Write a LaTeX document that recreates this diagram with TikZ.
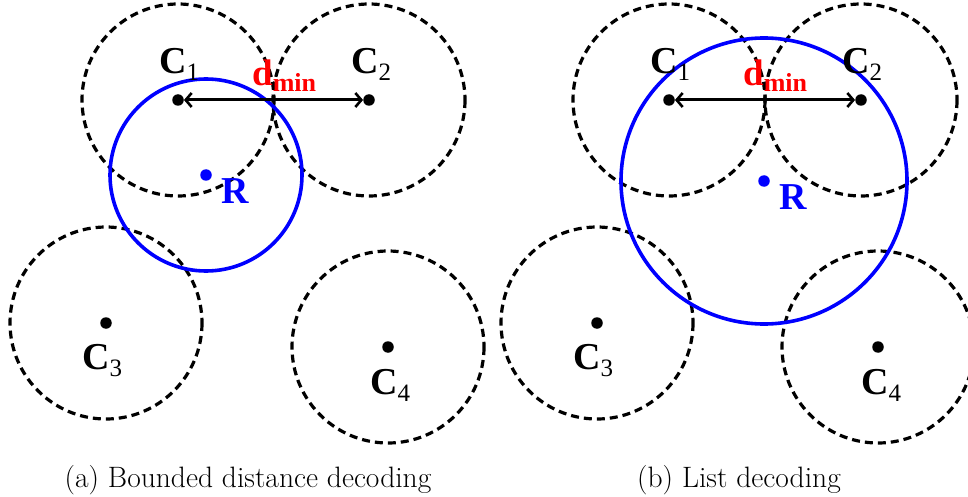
\documentclass[tikz,border=0pt]{standalone}
\usepackage{fontspec}
\newfontfamily\tnr{Liberation Serif}
\usetikzlibrary{arrows.meta}
\newcommand\clab[2]{{\tnr\fontsize{38}{38}\selectfont\bfseries #1\raisebox{-7pt}{\fontsize{25}{25}\selectfont\mdseries #2}}}
\newcommand\dminlab{{\tnr\bfseries\fontsize{37}{37}\selectfont d\raisebox{-6pt}{\fontsize{26}{26}\selectfont min}}}
\tikzset{
  dot/.style={circle,fill=black,inner sep=0pt,minimum size=11.5pt},
  bdot/.style={circle,fill=blue,inner sep=0pt,minimum size=11.5pt},
  dcirc/.style={draw=black,line width=3.2pt,dash pattern=on 8pt off 5pt},
  bcirc/.style={draw=blue,line width=3.6pt},
  darrow/.style={line width=3pt,{Straight Barb[length=6pt,width=14pt,line width=2.6pt]}-{Straight Barb[length=6pt,width=14pt,line width=2.6pt]}},
  lab/.style={anchor=base west,inner sep=0pt,text=black},
  captext/.style={anchor=base,inner sep=0pt,font=\fontsize{29.5}{34}\selectfont}
}
\begin{document}
\begin{tikzpicture}[x=1pt,y=-1pt]
\useasboundingbox (0,0) rectangle (968,497);
% ---------- panel (a)
\node[dot] (a1) at (178,100) {};
\node[dot] (a2) at (369,100) {};
\node[dot] (a3) at (106,323) {};
\node[dot] (a4) at (388,347) {};
\node[bdot] (ar) at (206,175) {};
\draw[dcirc] (a1.center) circle[radius=96];
\draw[dcirc] (a2.center) circle[radius=96];
\draw[dcirc] (a3.center) circle[radius=96];
\draw[dcirc] (a4.center) circle[radius=96];
\draw[bcirc] (ar.center) circle[radius=96];
\draw[darrow] (a1) -- (a2);
\node[lab] (a1l) at (159,74) {\clab{C}{1}};
\node[lab] (a2l) at (351,74) {\clab{C}{2}};
\node[lab] (a3l) at (82,369) {\clab{C}{3}};
\node[lab] (a4l) at (370,394) {\clab{C}{4}};
\node[lab,text=red] (adl) at (252,86) {\dminlab};
\node[lab,text=blue] (arl) at (221,203) {{\tnr\bfseries\fontsize{38}{38}\selectfont R}};
\node[captext] (acap) at (248,487) {(a) Bounded distance decoding};
% ---------- panel (b)
\begin{scope}[xshift=491pt]
\node[dot] (b1) at (178,100) {};
\node[dot] (b2) at (370,100) {};
\node[dot] (b3) at (106,323) {};
\node[dot] (b4) at (387,347) {};
\node[bdot] (br) at (273,181) {};
\draw[dcirc] (b1.center) circle[radius=96];
\draw[dcirc] (b2.center) circle[radius=96];
\draw[dcirc] (b3.center) circle[radius=96];
\draw[dcirc] (b4.center) circle[radius=96];
\draw[bcirc] (br.center) circle[radius=143];
\draw[darrow] (b1) -- (b2);
\node[lab] (b1l) at (159,74) {\clab{C}{1}};
\node[lab] (b2l) at (351,74) {\clab{C}{2}};
\node[lab] (b3l) at (82,369) {\clab{C}{3}};
\node[lab] (b4l) at (370,394) {\clab{C}{4}};
\node[lab,text=red] (bdl) at (252,86) {\dminlab};
\node[lab,text=blue] (brl) at (288,209) {{\tnr\bfseries\fontsize{38}{38}\selectfont R}};
\node[captext] (bcap) at (248,487) {(b) List decoding};
\end{scope}
\end{tikzpicture}
\end{document}
